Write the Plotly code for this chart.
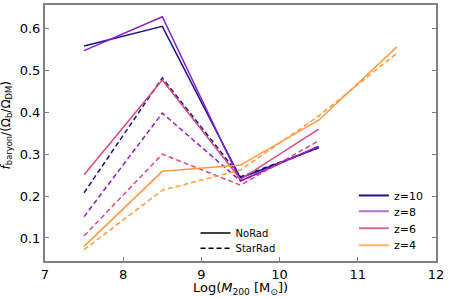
import plotly.graph_objects as go

# halo mass bins
logm = [7.5, 8.5, 9.5, 10.5, 11.5]

# baryon fraction, NoRad (solid) and StarRad (dashed)
norad_z10 = [0.558, 0.605, 0.243, 0.316]
norad_z8 = [0.547, 0.628, 0.236, 0.319]
norad_z6 = [0.251, 0.477, 0.240, 0.360]
norad_z4 = [0.080, 0.259, 0.274, 0.381, 0.556]

starrad_z10 = [0.208, 0.482, 0.246, 0.315]
starrad_z8 = [0.151, 0.398, 0.236, 0.318]
starrad_z6 = [0.105, 0.300, 0.226, 0.332]
starrad_z4 = [0.072, 0.214, 0.262, 0.391, 0.541]

labels = ["z=10", "z=8", "z=6", "z=4"]
colors = ["#1d118a", "#8c1bc2", "#d64b7c", "#fb9a45"]
legend_colors = ["#1d118a", "#b070d8", "#d66a92", "#fbae6a"]

norad = [norad_z10, norad_z8, norad_z6, norad_z4]
starrad = [starrad_z10, starrad_z8, starrad_z6, starrad_z4]

DASH = "5px,3px"

fig = go.Figure()

for i in range(4):
    fig.add_trace(go.Scatter(x=logm[:len(norad[i])], y=norad[i], mode="lines",
                             line=dict(color=colors[i], width=1.5), showlegend=False))
    fig.add_trace(go.Scatter(x=logm[:len(starrad[i])], y=starrad[i], mode="lines",
                             line=dict(color=colors[i], width=1.5, dash=DASH), showlegend=False))

# one small legend per entry so the rows can sit tight like the original
z_rows = [0.256, 0.194, 0.128, 0.062]
legends = {}
for i in range(4):
    key = "legend" if i == 0 else "legend%d" % (i + 1)
    fig.add_trace(go.Scatter(x=[None], y=[None], mode="lines", name=labels[i],
                             line=dict(color=legend_colors[i], width=2), legend=key))
    legends[key] = dict(x=0.79, y=z_rows[i], xanchor="left", yanchor="middle",
                        font=dict(size=11), bgcolor="rgba(0,0,0,0)", itemwidth=30)

style_names = ["NoRad", "StarRad"]
style_dash = ["solid", DASH]
style_rows = [0.109, 0.050]
for j in range(2):
    key = "legend%d" % (5 + j)
    fig.add_trace(go.Scatter(x=[None], y=[None], mode="lines", name=style_names[j],
                             line=dict(color="black", width=1.5, dash=style_dash[j]), legend=key))
    legends[key] = dict(x=0.385, y=style_rows[j], xanchor="left", yanchor="middle",
                        font=dict(size=10), bgcolor="rgba(0,0,0,0)", itemwidth=30)

axis_style = dict(showline=True, linecolor="#808080", linewidth=2, ticks="inside",
                  ticklen=4, tickcolor="#808080", showgrid=False, zeroline=False,
                  tickfont=dict(size=13, color="black"))

fig.update_xaxes(range=[7, 12], dtick=1, mirror=True,
                 title=dict(text="Log(<i>M</i><sub>200</sub> [M<sub>⊙</sub>])",
                            font=dict(size=13), standoff=2),
                 **axis_style)
fig.update_yaxes(range=[0.045, 0.656], tickvals=[0.1, 0.2, 0.3, 0.4, 0.5, 0.6], mirror="ticks",
                 **axis_style)

# y title as an annotation so its position can be set directly
fig.add_annotation(text="<i>f</i><sub>baryon</sub>/(Ω<sub>b</sub>/Ω<sub>DM</sub>)",
                   xref="paper", yref="paper", x=-0.097, y=0.53, textangle=-90,
                   xanchor="center", yanchor="middle", showarrow=False, font=dict(size=12))

fig.update_layout(
    width=449, height=297,
    margin=dict(l=45, r=13, t=3, b=36),
    plot_bgcolor="white", paper_bgcolor="white",
    font=dict(family="DejaVu Sans", color="black"),
    **legends,
)

fig.write_html("out.html", config={"displayModeBar": False},
               post_script="document.body.style.margin='0';")
